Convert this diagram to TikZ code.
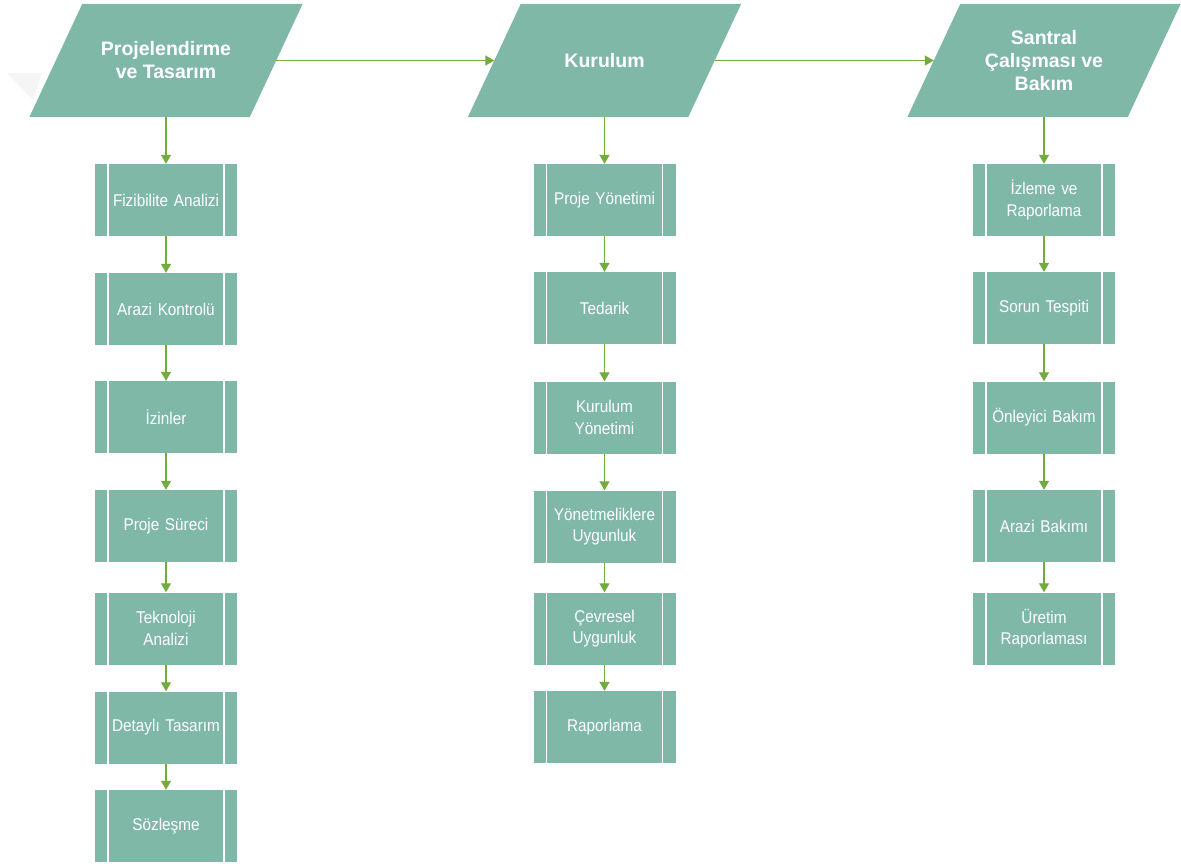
\documentclass[tikz,border=0pt]{standalone}
\usepackage{fontspec}
\setmainfont{Liberation Sans}
\newfontfamily\narrowfont[FakeStretch=0.9]{Liberation Sans}
\usetikzlibrary{arrows.meta,backgrounds}
\definecolor{tealfill}{HTML}{80B8A8}
\definecolor{flowgreen}{HTML}{72AB3E}
\begin{document}
\begin{tikzpicture}[x=1pt,y=-1pt,
  phase/.style={rectangle, minimum height=113pt, minimum width=220pt,
    inner sep=0pt, text=white, align=center,
    font=\bfseries\fontsize{19.5}{23}\selectfont},
  task/.style={rectangle, fill=tealfill, minimum width=142pt, minimum height=72pt,
    inner sep=0pt, text=white, align=center, text width=120pt,
    font=\narrowfont\fontsize{17}{21.5}\selectfont,
    path picture={
      \draw[white, line width=1.6pt]
        ([xshift=13pt]path picture bounding box.north west) -- ([xshift=13pt]path picture bounding box.south west)
        ([xshift=-13pt]path picture bounding box.north east) -- ([xshift=-13pt]path picture bounding box.south east);
    }},
  flow/.style={draw=flowgreen, line width=1.2pt, -{Triangle[width=10pt,length=9pt]}}
]
\useasboundingbox (0,0) rectangle (1181,865);

% faint shadow at the left margin
\fill[gray!8] (7,73) -- (42,73) -- (33,100) -- cycle;

% phase headers: text nodes with a slanted parallelogram behind them
\node[phase] (h1) at (166,60.5) {Projelendirme\\ve Tasarım};
\node[phase] (h2) at (604.5,60.5) {Kurulum};
\node[phase] (h3) at (1044,60.5) {Santral\\Çalışması ve\\Bakım};
\begin{scope}[on background layer]
  \foreach \h in {h1,h2,h3}
    \fill[tealfill] ([xshift=26.5pt]\h.north west) -- ([xshift=26.5pt]\h.north east)
      -- ([xshift=-26.5pt]\h.south east) -- ([xshift=-26.5pt]\h.south west) -- cycle;
\end{scope}

% column 1
\node[task] (a1) at (166,200) {Fizibilite Analizi};
\node[task] (a2) at (166,309) {Arazi Kontrolü};
\node[task] (a3) at (166,417) {İzinler};
\node[task] (a4) at (166,526) {Proje Süreci};
\node[task] (a5) at (166,628.5) {Teknoloji\\Analizi};
\node[task] (a6) at (166,727.5) {Detaylı Tasarım};
\node[task] (a7) at (166,826) {Sözleşme};

% column 2
\node[task] (b1) at (604.5,200) {Proje Yönetimi};
\node[task] (b2) at (604.5,308) {Tedarik};
\node[task] (b3) at (604.5,417.5) {Kurulum\\Yönetimi};
\node[task] (b4) at (604.5,526.5) {Yönetmeliklere\\Uygunluk};
\node[task] (b5) at (604.5,628.5) {Çevresel\\Uygunluk};
\node[task] (b6) at (604.5,727) {Raporlama};

% column 3
\node[task] (c1) at (1044,200) {İzleme ve\\Raporlama};
\node[task] (c2) at (1044,308) {Sorun Tespiti};
\node[task] (c3) at (1044,417.5) {Önleyici Bakım};
\node[task] (c4) at (1044,526) {Arazi Bakımı};
\node[task] (c5) at (1044,628.5) {Üretim\\Raporlaması};

% connectors
\draw[flow] (h1.east) -- (h2.west);
\draw[flow] (h2.east) -- (h3.west);

\draw[flow] (h1.south) -- (a1.north);
\draw[flow] (a1) -- (a2);
\draw[flow] (a2) -- (a3);
\draw[flow] (a3) -- (a4);
\draw[flow] (a4) -- (a5);
\draw[flow] (a5) -- (a6);
\draw[flow] (a6) -- (a7);

\draw[flow] (h2.south) -- (b1.north);
\draw[flow] (b1) -- (b2);
\draw[flow] (b2) -- (b3);
\draw[flow] (b3) -- (b4);
\draw[flow] (b4) -- (b5);
\draw[flow] (b5) -- (b6);

\draw[flow] (h3.south) -- (c1.north);
\draw[flow] (c1) -- (c2);
\draw[flow] (c2) -- (c3);
\draw[flow] (c3) -- (c4);
\draw[flow] (c4) -- (c5);
\end{tikzpicture}
\end{document}
